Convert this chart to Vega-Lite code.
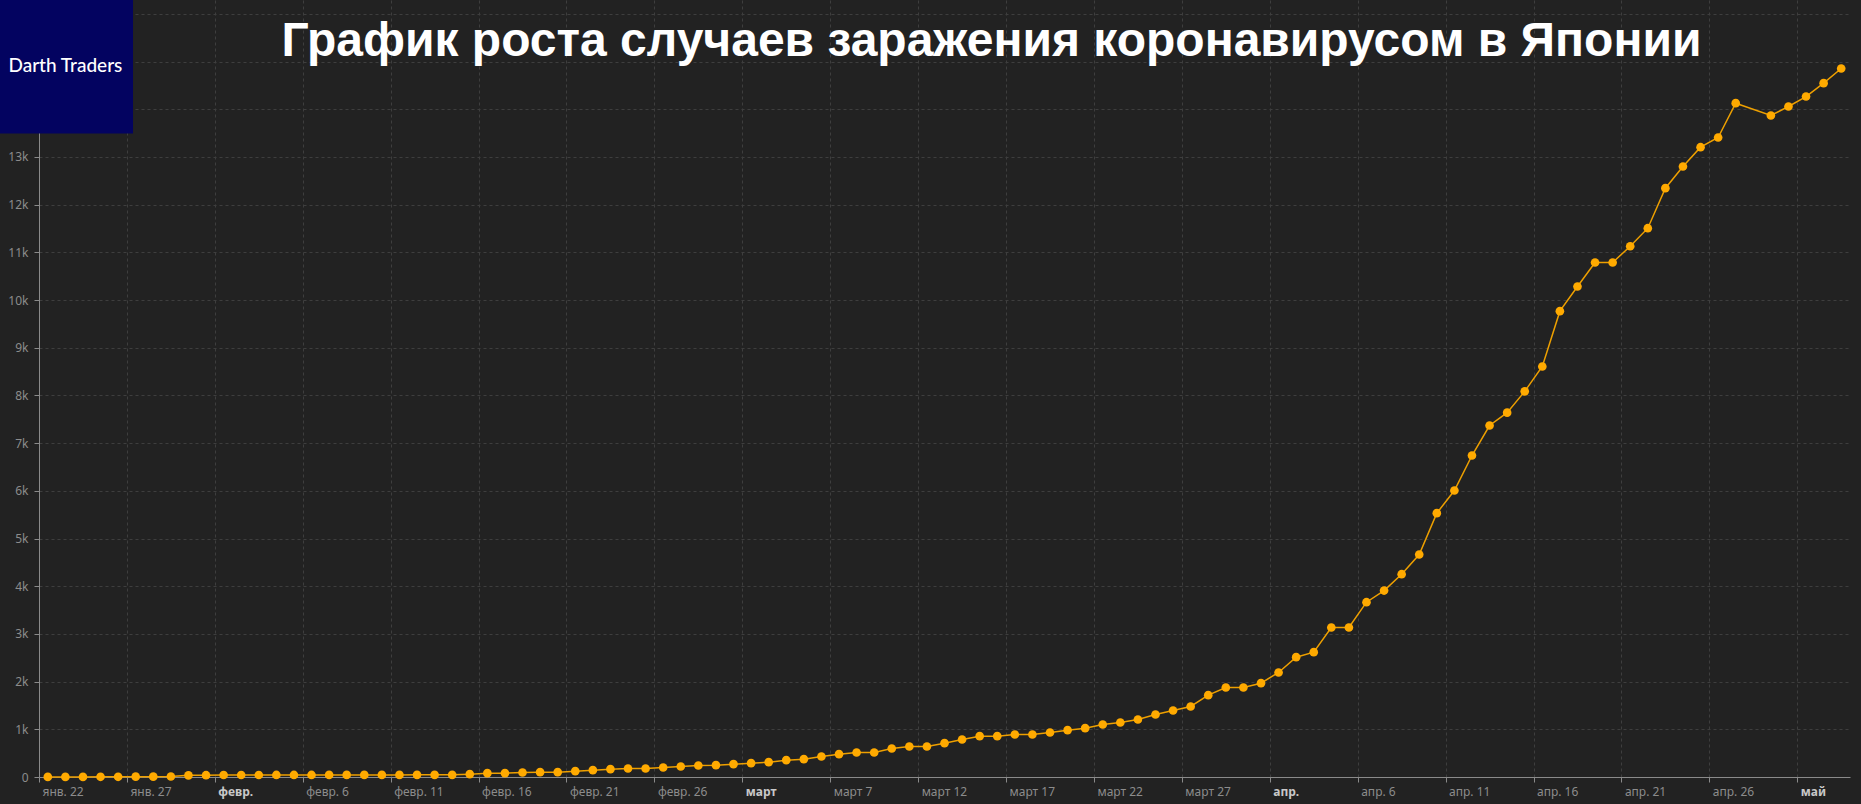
{
  "$schema": "https://vega.github.io/schema/vega-lite/v6.json",
  "width": 1811,
  "height": 777,
  "autosize": {"type": "none"},
  "padding": {"left": 39, "top": 0, "right": 11, "bottom": 27},
  "background": "#222222",
  "config": {"view": {"stroke": null}},
  "title": {
    "text": "График роста случаев заражения коронавирусом в Японии",
    "color": "#ffffff",
    "font": "Liberation Sans",
    "fontSize": 48,
    "fontWeight": "bold",
    "anchor": "middle",
    "frame": "group",
    "orient": "top",
    "baseline": "middle",
    "offset": -45,
    "dx": 47,
    "dy": 45
  },
  "datasets": {
    "cases": [
      {"date": "2020-01-22", "cases": 2},
      {"date": "2020-01-23", "cases": 2},
      {"date": "2020-01-24", "cases": 2},
      {"date": "2020-01-25", "cases": 4},
      {"date": "2020-01-26", "cases": 4},
      {"date": "2020-01-27", "cases": 7},
      {"date": "2020-01-28", "cases": 7},
      {"date": "2020-01-29", "cases": 11},
      {"date": "2020-01-30", "cases": 35},
      {"date": "2020-01-31", "cases": 38},
      {"date": "2020-02-01", "cases": 42},
      {"date": "2020-02-02", "cases": 42},
      {"date": "2020-02-03", "cases": 42},
      {"date": "2020-02-04", "cases": 43},
      {"date": "2020-02-05", "cases": 43},
      {"date": "2020-02-06", "cases": 43},
      {"date": "2020-02-07", "cases": 44},
      {"date": "2020-02-08", "cases": 44},
      {"date": "2020-02-09", "cases": 44},
      {"date": "2020-02-10", "cases": 44},
      {"date": "2020-02-11", "cases": 44},
      {"date": "2020-02-12", "cases": 45},
      {"date": "2020-02-13", "cases": 45},
      {"date": "2020-02-14", "cases": 45},
      {"date": "2020-02-15", "cases": 59},
      {"date": "2020-02-16", "cases": 80},
      {"date": "2020-02-17", "cases": 80},
      {"date": "2020-02-18", "cases": 94},
      {"date": "2020-02-19", "cases": 101},
      {"date": "2020-02-20", "cases": 101},
      {"date": "2020-02-21", "cases": 122},
      {"date": "2020-02-22", "cases": 143},
      {"date": "2020-02-23", "cases": 164},
      {"date": "2020-02-24", "cases": 178},
      {"date": "2020-02-25", "cases": 178},
      {"date": "2020-02-26", "cases": 199},
      {"date": "2020-02-27", "cases": 220},
      {"date": "2020-02-28", "cases": 241},
      {"date": "2020-02-29", "cases": 248},
      {"date": "2020-03-01", "cases": 269},
      {"date": "2020-03-02", "cases": 290},
      {"date": "2020-03-03", "cases": 311},
      {"date": "2020-03-04", "cases": 353},
      {"date": "2020-03-05", "cases": 374},
      {"date": "2020-03-06", "cases": 430},
      {"date": "2020-03-07", "cases": 479},
      {"date": "2020-03-08", "cases": 514},
      {"date": "2020-03-09", "cases": 514},
      {"date": "2020-03-10", "cases": 597},
      {"date": "2020-03-11", "cases": 639},
      {"date": "2020-03-12", "cases": 639},
      {"date": "2020-03-13", "cases": 709},
      {"date": "2020-03-14", "cases": 786},
      {"date": "2020-03-15", "cases": 856},
      {"date": "2020-03-16", "cases": 856},
      {"date": "2020-03-17", "cases": 891},
      {"date": "2020-03-18", "cases": 891},
      {"date": "2020-03-19", "cases": 933},
      {"date": "2020-03-20", "cases": 982},
      {"date": "2020-03-21", "cases": 1024},
      {"date": "2020-03-22", "cases": 1101},
      {"date": "2020-03-23", "cases": 1143},
      {"date": "2020-03-24", "cases": 1205},
      {"date": "2020-03-25", "cases": 1310},
      {"date": "2020-03-26", "cases": 1394},
      {"date": "2020-03-27", "cases": 1478},
      {"date": "2020-03-28", "cases": 1716},
      {"date": "2020-03-29", "cases": 1876},
      {"date": "2020-03-30", "cases": 1876},
      {"date": "2020-03-31", "cases": 1967},
      {"date": "2020-04-01", "cases": 2191},
      {"date": "2020-04-02", "cases": 2512},
      {"date": "2020-04-03", "cases": 2617},
      {"date": "2020-04-04", "cases": 3134},
      {"date": "2020-04-05", "cases": 3134},
      {"date": "2020-04-06", "cases": 3665},
      {"date": "2020-04-07", "cases": 3909},
      {"date": "2020-04-08", "cases": 4252},
      {"date": "2020-04-09", "cases": 4665},
      {"date": "2020-04-10", "cases": 5531},
      {"date": "2020-04-11", "cases": 6006},
      {"date": "2020-04-12", "cases": 6740},
      {"date": "2020-04-13", "cases": 7369},
      {"date": "2020-04-14", "cases": 7638},
      {"date": "2020-04-15", "cases": 8085},
      {"date": "2020-04-16", "cases": 8606},
      {"date": "2020-04-17", "cases": 9766},
      {"date": "2020-04-18", "cases": 10283},
      {"date": "2020-04-19", "cases": 10786},
      {"date": "2020-04-20", "cases": 10786},
      {"date": "2020-04-21", "cases": 11128},
      {"date": "2020-04-22", "cases": 11506},
      {"date": "2020-04-23", "cases": 12345},
      {"date": "2020-04-24", "cases": 12799},
      {"date": "2020-04-25", "cases": 13204},
      {"date": "2020-04-26", "cases": 13407},
      {"date": "2020-04-27", "cases": 14127},
      {"date": "2020-04-29", "cases": 13868},
      {"date": "2020-04-30", "cases": 14057},
      {"date": "2020-05-01", "cases": 14266},
      {"date": "2020-05-02", "cases": 14546},
      {"date": "2020-05-03", "cases": 14853}
    ],
    "logo": [{"label": "Darth Traders"}]
  },
  "layer": [
    {
      "data": {"name": "cases"},
      "mark": {"type": "line", "color": "#eea000", "strokeWidth": 1.5},
      "encoding": {
        "x": {
          "field": "date",
          "type": "temporal",
          "scale": {"type": "utc", "domain": [1579608000000, 1588507200000], "nice": false},
          "axis": {
            "title": null,
            "values": [1579608000000, 1580040000000, 1580472000000, 1580904000000, 1581336000000, 1581768000000, 1582200000000, 1582632000000, 1583064000000, 1583496000000, 1583928000000, 1584360000000, 1584792000000, 1585224000000, 1585656000000, 1586088000000, 1586520000000, 1586952000000, 1587384000000, 1587816000000, 1588248000000],
            "labelExpr": "['янв.','февр.','март','апр.','май'][utcmonth(time(datum.value) + 43200000)] + (utcdate(time(datum.value) + 43200000) <= 2 ? '' : ' ' + utcdate(time(datum.value) + 43200000))",
            "labelAlign": "left",
            "labelOffset": 3,
            "labelPadding": 4,
            "labelFont": "Noto Sans",
            "labelFontSize": 12,
            "labelOverlap": false,
            "labelFlush": false,
            "labelColor": {"condition": {"test": "utcdate(time(datum.value) + 43200000) <= 2", "value": "#c8c8c8"}, "value": "#8c8c8c"},
            "labelFontWeight": {"condition": {"test": "utcdate(time(datum.value) + 43200000) <= 2", "value": "bold"}, "value": "normal"},
            "grid": true,
            "gridColor": "#3e3e3e",
            "gridDash": [3, 3],
            "tickColor": "#8a8a8a",
            "tickSize": 5,
            "domainColor": "#8a8a8a"
          }
        },
        "y": {
          "field": "cases",
          "type": "quantitative",
          "scale": {"domain": [0, 16290], "nice": false},
          "axis": {
            "title": null,
            "values": [0, 1000, 2000, 3000, 4000, 5000, 6000, 7000, 8000, 9000, 10000, 11000, 12000, 13000, 14000, 15000, 16000],
            "labelExpr": "datum.value == 0 ? '0' : (datum.value > 13000 ? '' : (datum.value / 1000) + 'k')",
            "labelFont": "Noto Sans",
            "labelFontSize": 12,
            "labelColor": "#8c8c8c",
            "labelPadding": 6,
            "grid": true,
            "gridColor": "#3e3e3e",
            "gridDash": [3, 3],
            "tickColor": "#8a8a8a",
            "tickSize": 5,
            "domainColor": "#8a8a8a"
          }
        }
      }
    },
    {
      "data": {"name": "cases"},
      "mark": {"type": "point", "filled": true, "size": 75, "color": "#ffaa00", "opacity": 1},
      "encoding": {
        "x": {"field": "date", "type": "temporal", "scale": {"type": "utc", "domain": [1579608000000, 1588507200000], "nice": false}},
        "y": {"field": "cases", "type": "quantitative", "scale": {"domain": [0, 16290], "nice": false}}
      }
    },
    {
      "data": {"name": "logo"},
      "mark": {"type": "rect", "color": "#030360", "clip": false},
      "encoding": {
        "x": {"datum": {"year": 2020, "month": 1, "date": 19, "hours": 6, "minutes": 46, "utc": true}, "type": "temporal", "scale": {"type": "utc", "domain": [1579608000000, 1588507200000], "nice": false}},
        "x2": {"datum": {"year": 2020, "month": 1, "date": 26, "hours": 20, "minutes": 20, "utc": true}},
        "y": {"datum": 16290, "type": "quantitative", "scale": {"domain": [0, 16290], "nice": false}},
        "y2": {"datum": 13490}
      }
    },
    {
      "data": {"name": "logo"},
      "mark": {"type": "text", "color": "#ffffff", "font": "Lato", "fontSize": 19, "fontWeight": 500, "align": "center", "baseline": "middle", "clip": false},
      "encoding": {
        "x": {"datum": {"year": 2020, "month": 1, "date": 23, "utc": true}, "type": "temporal", "scale": {"type": "utc", "domain": [1579608000000, 1588507200000], "nice": false}},
        "y": {"datum": 14900, "type": "quantitative", "scale": {"domain": [0, 16290], "nice": false}},
        "text": {"field": "label"}
      }
    }
  ]
}
